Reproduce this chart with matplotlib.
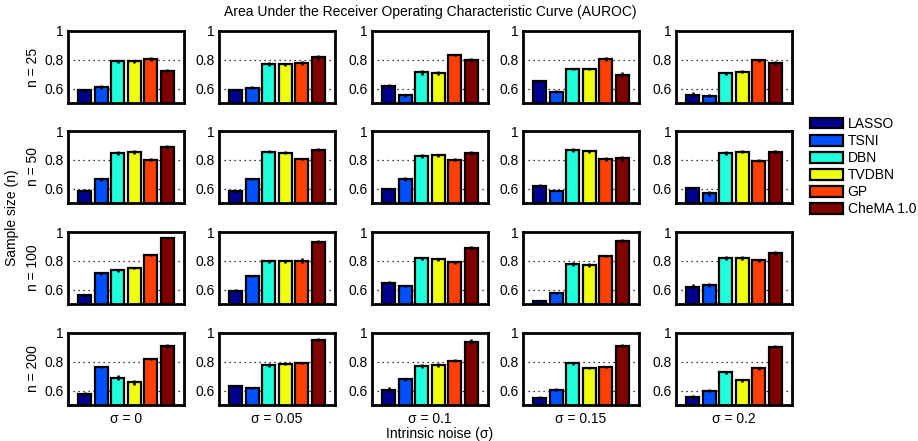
import numpy as np
import matplotlib
matplotlib.use("Agg")
import matplotlib.pyplot as plt
from matplotlib.patches import Patch

plt.rcParams['font.family'] = ['Liberation Sans', 'DejaVu Sans']

# Datos
metodos = ["LASSO", "TSNI", "DBN", "TVDBN", "GP", "CheMA 1.0"]
colores = ["#00008f", "#0050ff", "#22ffdd", "#eeff10", "#ff4000", "#800000"]
ruidos = ["σ = 0", "σ = 0.05", "σ = 0.1", "σ = 0.15", "σ = 0.2"]
tamanos = ["n = 25", "n = 50", "n = 100", "n = 200"]

# AUROC medio: filas = tamaño de muestra, columnas = ruido, 6 métodos
auroc_n25 = [
    [0.588, 0.610, 0.790, 0.790, 0.806, 0.724],
    [0.590, 0.606, 0.770, 0.770, 0.780, 0.816],
    [0.617, 0.553, 0.712, 0.705, 0.834, 0.797],
    [0.650, 0.578, 0.737, 0.733, 0.806, 0.696],
    [0.558, 0.551, 0.707, 0.717, 0.797, 0.777],
]
auroc_n50 = [
    [0.586, 0.664, 0.848, 0.855, 0.802, 0.891],
    [0.580, 0.666, 0.857, 0.848, 0.805, 0.870],
    [0.595, 0.664, 0.825, 0.830, 0.800, 0.845],
    [0.616, 0.586, 0.870, 0.859, 0.807, 0.810],
    [0.602, 0.566, 0.848, 0.855, 0.793, 0.855],
]
auroc_n100 = [
    [0.560, 0.713, 0.734, 0.750, 0.840, 0.959],
    [0.592, 0.693, 0.796, 0.796, 0.800, 0.931],
    [0.647, 0.624, 0.817, 0.810, 0.789, 0.890],
    [0.518, 0.576, 0.778, 0.771, 0.830, 0.940],
    [0.620, 0.630, 0.820, 0.820, 0.805, 0.853],
]
auroc_n200 = [
    [0.575, 0.765, 0.690, 0.658, 0.820, 0.913],
    [0.630, 0.619, 0.778, 0.788, 0.790, 0.954],
    [0.605, 0.678, 0.772, 0.778, 0.808, 0.940],
    [0.550, 0.607, 0.790, 0.756, 0.765, 0.913],
    [0.555, 0.600, 0.726, 0.671, 0.756, 0.906],
]
# Errores estándar (estimados)
err_n25 = [
    [0.010, 0.012, 0.010, 0.012, 0.012, 0.012],
    [0.010, 0.010, 0.012, 0.010, 0.014, 0.020],
    [0.014, 0.012, 0.016, 0.014, 0.008, 0.014],
    [0.012, 0.012, 0.008, 0.006, 0.012, 0.016],
    [0.016, 0.010, 0.010, 0.010, 0.010, 0.016],
]
err_n50 = [
    [0.012, 0.008, 0.016, 0.014, 0.008, 0.014],
    [0.012, 0.006, 0.010, 0.010, 0.006, 0.010],
    [0.008, 0.014, 0.014, 0.012, 0.010, 0.014],
    [0.014, 0.006, 0.014, 0.012, 0.012, 0.018],
    [0.008, 0.016, 0.012, 0.010, 0.010, 0.012],
]
err_n100 = [
    [0.008, 0.012, 0.010, 0.010, 0.006, 0.008],
    [0.012, 0.006, 0.012, 0.012, 0.016, 0.010],
    [0.010, 0.008, 0.008, 0.008, 0.008, 0.014],
    [0.006, 0.010, 0.012, 0.012, 0.006, 0.008],
    [0.016, 0.014, 0.012, 0.014, 0.010, 0.014],
]
err_n200 = [
    [0.014, 0.006, 0.016, 0.018, 0.008, 0.014],
    [0.008, 0.008, 0.014, 0.012, 0.008, 0.010],
    [0.018, 0.008, 0.016, 0.012, 0.008, 0.016],
    [0.010, 0.010, 0.010, 0.008, 0.008, 0.010],
    [0.016, 0.008, 0.010, 0.010, 0.010, 0.008],
]
auroc = [auroc_n25, auroc_n50, auroc_n100, auroc_n200]
errores = [err_n25, err_n50, err_n100, err_n200]

# Geometría en píxeles
W, H = 918, 441
izq = [68, 219, 372, 523, 676]
arriba = [31, 131, 232, 333]
ancho, alto = 116, 72
fs = 10

fig = plt.figure(figsize=(W / 100, H / 100), dpi=100)
x = np.arange(1, 7)

for i in range(4):
    for j in range(5):
        ax = fig.add_axes([izq[j] / W, (H - arriba[i] - alto) / H, ancho / W, alto / H])
        ax.bar(x, auroc[i][j], width=0.8, color=colores, edgecolor="black",
               linewidth=1.6, zorder=2)
        ax.errorbar(x, auroc[i][j], yerr=errores[i][j], fmt="none",
                    ecolor="black", elinewidth=1.8, capsize=0, zorder=3)
        ax.set_xlim(0, 7)
        ax.set_ylim(0.5, 1)
        ax.set_yticks([0.6, 0.8, 1])
        ax.set_yticklabels(["0.6", "0.8", "1"], fontsize=fs)
        ax.set_xticks([])
        ax.tick_params(axis="y", length=0, pad=3)
        ax.grid(axis="y", linestyle=(0, (1, 3)), color="black", linewidth=0.9, zorder=0)
        for s in ax.spines.values():
            s.set_linewidth(2)
        if j == 0:
            ax.set_ylabel(tamanos[i], fontsize=fs, labelpad=3)
        if i == 3:
            ax.set_xlabel(ruidos[j], fontsize=fs, labelpad=5)

fig.text(430 / W, 1 - 12 / H, "Area Under the Receiver Operating Characteristic Curve (AUROC)",
         ha="center", va="center", fontsize=fs)
fig.text(440 / W, 1 - 434 / H, "Intrinsic noise (σ)", ha="center", va="center", fontsize=fs)
fig.text(12 / W, 1 - 218 / H, "Sample size (n)", ha="center", va="center",
         rotation=90, fontsize=fs)

handles = [Patch(facecolor=c, edgecolor="black", linewidth=1.6) for c in colores]
fig.legend(handles, metodos, loc="upper left", bbox_to_anchor=(810 / W, 1 - 117 / H),
           frameon=False, fontsize=fs, handlelength=2.4, handleheight=0.8,
           handletextpad=0.3, labelspacing=0.22, borderaxespad=0, borderpad=0)

plt.savefig("out.png", dpi=100)
